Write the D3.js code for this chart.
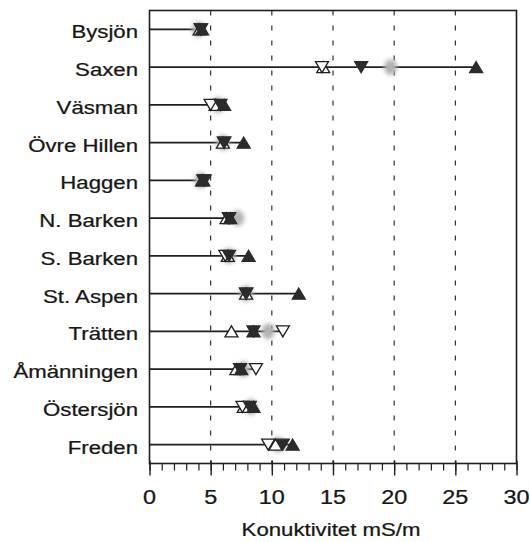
<!DOCTYPE html>
<html>
<head>
<meta charset="utf-8">
<script src="https://cdn.jsdelivr.net/npm/d3@7/dist/d3.min.js"></script>
<style>
  html, body { margin: 0; padding: 0; background: #fff; }
  svg { display: block; }
  text { font-family: "Liberation Sans", Arial, Helvetica, sans-serif; fill: #161616; stroke: #161616; stroke-width: 0.25px; }
</style>
</head>
<body>
<svg id="chart" width="530" height="542"></svg>
<script>
// Conductivity (mS/m) per lake, five measurement series
const lakes = ["Bysjön", "Saxen", "Väsman", "Övre Hillen", "Haggen", "N. Barken",
               "S. Barken", "St. Aspen", "Trätten", "Åmänningen", "Östersjön", "Freden"];
const openUp     = [4.1, 14.2, 5.4, 6.0, 4.3, 6.3, 6.4, 7.9, 6.7, 7.1, 7.7, 10.3];
const filledUp   = [4.3, 26.7, 6.1, 7.7, 4.4, 6.6, 8.1, 12.2, 8.5, 7.5, 8.5, 11.7];
const openDown   = [4.2, 14.1, 5.0, 6.1, 4.5, 6.5, 6.2, 7.9, 10.9, 8.7, 7.6, 9.7];
const filledDown = [4.2, 17.3, 5.8, 6.1, 4.4, 6.5, 6.5, 7.9, 8.5, 7.4, 8.2, 10.9];
const greyDot    = [4.0, 19.7, 5.6, 6.0, 4.2, 7.2, 6.5, 7.9, 9.7, 7.7, 8.3, 10.5];
const xTicks = [0, 5, 10, 15, 20, 25, 30];
const xTitle = "Konuktivitet mS/m";

const svg = d3.select("#chart");
const plotL = 149.5, plotR = 516.5, plotT = 10.5, plotB = 463.5;

const x = d3.scaleLinear().domain([0, 30]).range([plotL, plotR]);
const y = d3.scalePoint().domain(lakes).range([plotT, plotB]).padding(0.5);

const ink = "#1e1e1e";
const stretch = 1.2; // wide lettering

// blur for the grey dots
const defs = svg.append("defs");
defs.append("filter").attr("id", "soft")
  .attr("x", "-80%").attr("y", "-80%").attr("width", "260%").attr("height", "260%")
  .append("feGaussianBlur").attr("stdDeviation", 2.2);

// dashed vertical grid
svg.append("g").selectAll("line")
  .data(xTicks.filter(t => t > 0 && t < 30))
  .join("line")
  .attr("x1", d => x(d)).attr("x2", d => x(d))
  .attr("y1", plotT).attr("y2", plotB)
  .attr("stroke", ink).attr("stroke-width", 1.1)
  .attr("stroke-dasharray", "5,10");

// bottom axis: minor ticks every unit, major every 5
const axisG = svg.append("g").attr("transform", `translate(0,${plotB})`);
axisG.call(d3.axisBottom(x).ticks(30).tickSize(7).tickFormat(""))
  .call(g => g.select(".domain").remove())
  .call(g => g.selectAll("line").attr("stroke", ink).attr("stroke-width", 1.2));
axisG.append("g")
  .call(d3.axisBottom(x).tickValues(xTicks).tickSize(12).tickFormat(""))
  .call(g => g.select(".domain").remove())
  .call(g => g.selectAll("line").attr("stroke", ink).attr("stroke-width", 1.4).attr("y1", -3));

// tick labels
svg.append("g").selectAll("text")
  .data(xTicks)
  .join("text")
  .attr("transform", d => `translate(${x(d)},504) scale(${stretch},1)`)
  .attr("text-anchor", "middle")
  .style("font-size", "19.5px")
  .text(d => d);

svg.append("text")
  .attr("transform", `translate(${(plotL + plotR) / 2 - 2},536) scale(${stretch},1)`)
  .attr("text-anchor", "middle")
  .style("font-size", "18.5px")
  .text(xTitle);

// lake names
svg.append("g").selectAll("text")
  .data(lakes)
  .join("text")
  .attr("transform", d => `translate(138,${y(d) + 9}) scale(${stretch},1)`)
  .attr("text-anchor", "end")
  .style("font-size", "18.5px")
  .text(d => d);

// frame
svg.append("rect")
  .attr("x", plotL).attr("y", plotT)
  .attr("width", plotR - plotL).attr("height", plotB - plotT)
  .attr("fill", "none").attr("stroke", ink).attr("stroke-width", 1.6);

// range line from zero to the largest value in each row
const rowMax = lakes.map((_, i) => d3.max([openUp[i], filledUp[i], openDown[i], filledDown[i], greyDot[i]]));
svg.append("g").selectAll("line")
  .data(lakes)
  .join("line")
  .attr("x1", x(0)).attr("x2", (d, i) => x(rowMax[i]))
  .attr("y1", d => y(d)).attr("y2", d => y(d))
  .attr("stroke", ink).attr("stroke-width", 1.6);

// grey blurred dots
svg.append("g").attr("filter", "url(#soft)").selectAll("ellipse")
  .data(lakes)
  .join("ellipse")
  .attr("cx", (d, i) => x(greyDot[i])).attr("cy", d => y(d))
  .attr("rx", 6.5).attr("ry", 8).attr("fill", "#b2b2b2");

// triangle symbols: w wide, h tall, centred on the point
const triW = 13, triH = 11;
const triUp = { draw(ctx) { ctx.moveTo(0, -triH / 2); ctx.lineTo(triW / 2, triH / 2); ctx.lineTo(-triW / 2, triH / 2); ctx.closePath(); } };
const triDown = { draw(ctx) { ctx.moveTo(0, triH / 2); ctx.lineTo(triW / 2, -triH / 2); ctx.lineTo(-triW / 2, -triH / 2); ctx.closePath(); } };

function drawSeries(values, type, filled) {
  svg.append("g").selectAll("path")
    .data(lakes)
    .join("path")
    .attr("transform", (d, i) => `translate(${x(values[i])},${y(d)})`)
    .attr("d", d3.symbol().type(type)())
    .attr("fill", filled ? "#2b2b2b" : "#fff")
    .attr("stroke", filled ? "#2b2b2b" : ink)
    .attr("stroke-width", 1.3)
    .attr("stroke-linejoin", "miter");
}

drawSeries(openUp, triUp, false);
drawSeries(openDown, triDown, false);
drawSeries(filledDown, triDown, true);
drawSeries(filledUp, triUp, true);
</script>
</body>
</html>
